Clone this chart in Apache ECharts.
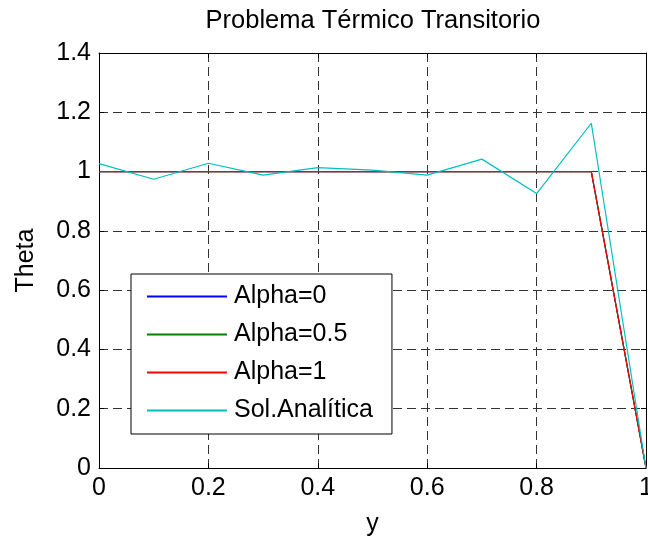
<!DOCTYPE html>
<html>
<head>
<meta charset="utf-8">
<script src="https://cdn.jsdelivr.net/npm/echarts@6/dist/echarts.min.js"></script>
<style>html,body{margin:0;padding:0;background:#fff;}#c{width:648px;height:538px;}</style>
</head>
<body>
<div id="c"></div>
<script>
var xValues = [0, 0.1, 0.2, 0.3, 0.4, 0.5, 0.6, 0.7, 0.8, 0.9, 1.0];
var alpha0 = [1, 1, 1, 1, 1, 1, 1, 1, 1, 1, 0];
var alpha05 = [1, 1, 1, 1, 1, 1, 1, 1, 1, 1, 0];
var alpha1 = [1, 1, 1, 1, 1, 1, 1, 1, 1, 1, 0];
var solAnalitica = [1.027, 0.974, 1.028, 0.988, 1.013, 1.005, 0.988, 1.042, 0.926, 1.163, 0];
var seriesNames = ['Alpha=0', 'Alpha=0.5', 'Alpha=1', 'Sol.Analítica'];
var seriesColors = ['#0000ff', '#008000', '#ff0000', '#00bfbf'];
var titleText = 'Problema Térmico Transitorio';
var xName = 'y';
var yName = 'Theta';

function pairs(ys) { return xValues.map(function (x, i) { return [x, ys[i]]; }); }
var allY = [alpha0, alpha05, alpha1, solAnalitica];

var FONT = '"Liberation Sans", Arial, sans-serif';
var gridLine = { show: true, lineStyle: { color: '#333', width: 1, type: [9, 5] } };
var axLine = { show: true, onZero: false, lineStyle: { color: '#000', width: 1 } };
var tick = { show: true, inside: true, length: 5, lineStyle: { color: '#000' } };
var lbl = { color: '#000', fontSize: 25, fontFamily: FONT, margin: 8 };

var chart = echarts.init(document.getElementById('c'), null, { renderer: 'canvas' });
chart.setOption({
  backgroundColor: '#fff',
  animation: false,
  title: {
    text: titleText, left: 368, top: 3, textAlign: 'center',
    textStyle: { fontSize: 25.5, fontWeight: 'normal', color: '#000', fontFamily: FONT }
  },
  grid: { left: 99, right: 2, top: 53, bottom: 70, containLabel: false, outerBoundsMode: 'none' },
  legend: {
    orient: 'vertical', left: 131, top: 274,
    data: seriesNames,
    icon: 'rect', itemWidth: 80, itemHeight: 2, itemGap: 13,
    padding: [10, 19, 11, 16],
    borderColor: '#000', borderWidth: 1, backgroundColor: '#fff',
    textStyle: { fontSize: 25, color: '#000', fontFamily: FONT, padding: [0, 0, 0, 2] }
  },
  xAxis: [
    { type: 'value', min: 0, max: 1, interval: 0.2, position: 'bottom',
      name: xName, nameLocation: 'middle', nameGap: 44,
      nameTextStyle: { fontSize: 25, color: '#000', fontFamily: FONT },
      axisLine: axLine, axisTick: tick, axisLabel: lbl, splitLine: gridLine },
    { type: 'value', min: 0, max: 1, interval: 0.2, position: 'top',
      axisLine: axLine, axisTick: tick, axisLabel: { show: false }, splitLine: { show: false } }
  ],
  yAxis: [
    { type: 'value', min: 0, max: 1.4, interval: 0.2, position: 'left',
      name: yName, nameLocation: 'middle', nameGap: 60,
      nameTextStyle: { fontSize: 25, color: '#000', fontFamily: FONT },
      axisLine: axLine, axisTick: tick, axisLabel: lbl, splitLine: gridLine },
    { type: 'value', min: 0, max: 1.4, interval: 0.2, position: 'right',
      axisLine: axLine, axisTick: tick, axisLabel: { show: false }, splitLine: { show: false } }
  ],
  series: seriesNames.map(function (n, i) {
    return {
      name: n, type: 'line', data: pairs(allY[i]), showSymbol: false, symbol: 'none',
      lineStyle: { color: seriesColors[i], width: 1.2 }, itemStyle: { color: seriesColors[i] },
      clip: false, z: 2 + i
    };
  })
});
</script>
</body>
</html>
